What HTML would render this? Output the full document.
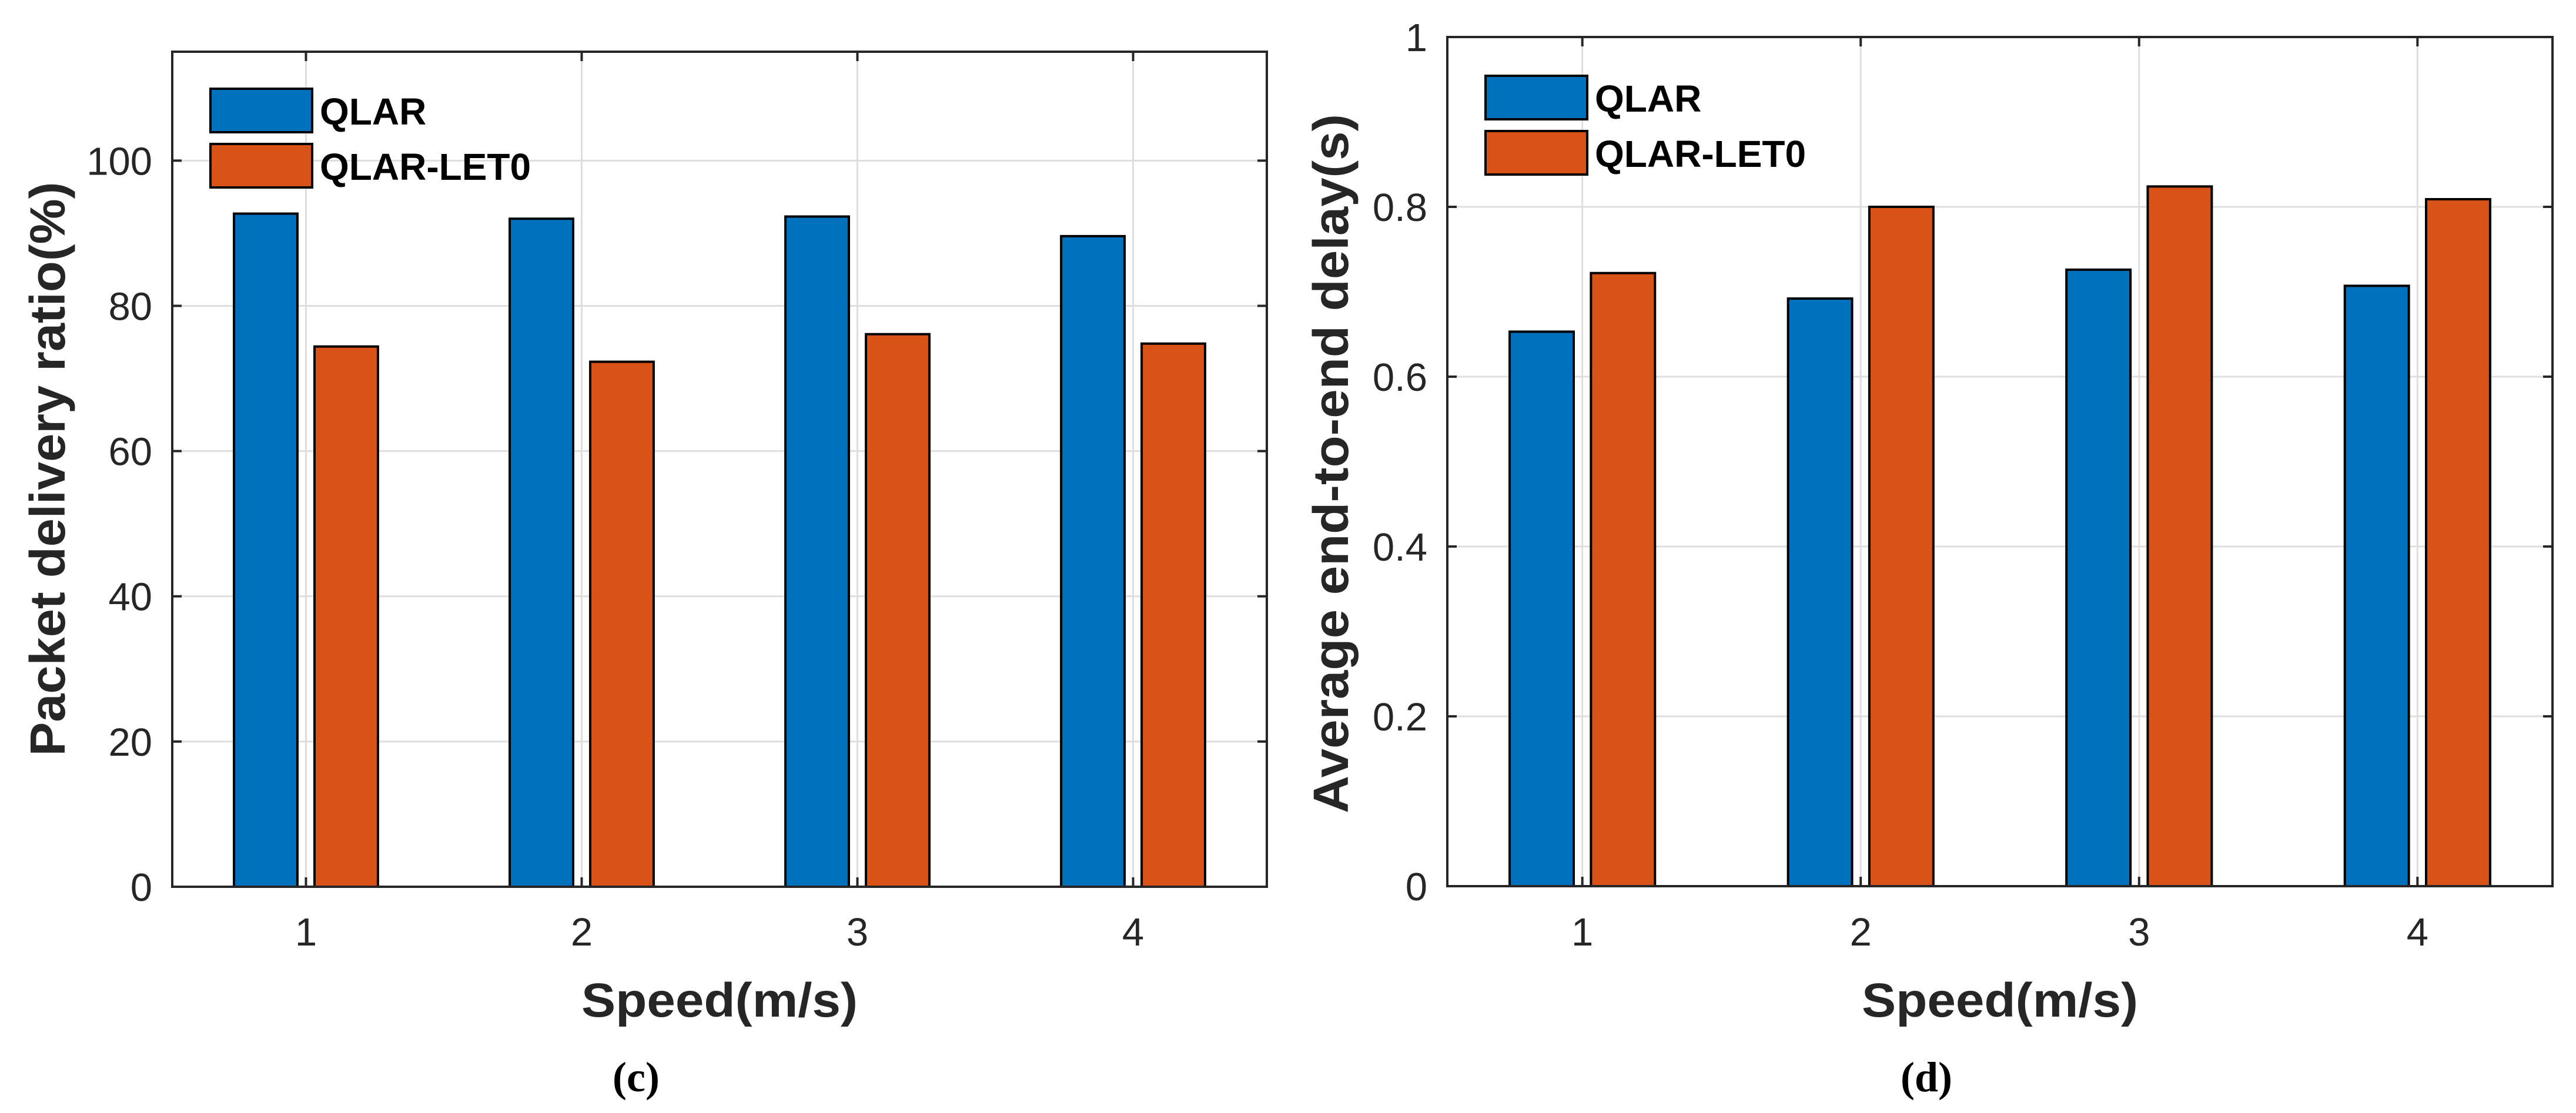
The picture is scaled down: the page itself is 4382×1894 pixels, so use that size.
<!DOCTYPE html>
<html><head><meta charset="utf-8"><style>
html,body{margin:0;padding:0;background:#fff;}
svg{display:block;}
text{font-family:"Liberation Sans",sans-serif;}
</style></head><body>
<svg id="fig" width="4382" height="1894" viewBox="0 0 4382 1894" xmlns="http://www.w3.org/2000/svg"></svg>
<script>
const categories = [1, 2, 3, 4];
const pdrQlar = [92.7, 92.0, 92.3, 89.6];
const pdrLet0 = [74.4, 72.3, 76.1, 74.8];
const pdrTicks = [0, 20, 40, 60, 80, 100];
const delayQlar = [0.653, 0.692, 0.726, 0.707];
const delayLet0 = [0.722, 0.800, 0.824, 0.809];
const delayTicks = [0, 0.2, 0.4, 0.6, 0.8, 1];
const delayTickLabels = ["0", "0.2", "0.4", "0.6", "0.8", "1"];
const seriesNames = ["QLAR", "QLAR-LET0"];

const NS = "http://www.w3.org/2000/svg";
const svg = document.getElementById("fig");
function mk(tag, attrs, parent, txt) {
  const e = document.createElementNS(NS, tag);
  for (const k in attrs) e.setAttribute(k, attrs[k]);
  if (txt !== undefined) e.textContent = txt;
  (parent || svg).appendChild(e);
  return e;
}

function drawChart(cfg) {
  const g = mk("g", {});
  
  
  const L = cfg.left, R = cfg.right, T = cfg.top, B = cfg.bottom;
  const xmin = 0.515, xmax = 4.485;
  const xs = v => L + (v - xmin) / (xmax - xmin) * (R - L);
  const ys = v => B - (v - cfg.ymin) / (cfg.ymax - cfg.ymin) * (B - T);
  cfg.ticks.forEach((t, i) => {
    const gl = mk("line", {x1: L, x2: R, y1: ys(t), y2: ys(t), stroke: "#dedede", "stroke-width": 3}, g);
    
    
  });
  categories.forEach(c => {
    const gl = mk("line", {x1: xs(c), x2: xs(c), y1: T, y2: B, stroke: "#dedede", "stroke-width": 3}, g);
    
    
  });
  const bw = 0.23, off = 0.146;
  const series = [[cfg.a, "#0072BD", -off], [cfg.b, "#D95319", off]];
  series.forEach((s, si) => {
    s[0].forEach((v, i) => {
      const x0 = xs(categories[i] + s[2] - bw / 2), x1 = xs(categories[i] + s[2] + bw / 2);
      const r = mk("rect", {x: x0, y: ys(v), width: x1 - x0, height: ys(cfg.ymin) - ys(v), fill: s[1], stroke: "#000", "stroke-width": 4}, g);
      
      
    });
  });
  cfg.ticks.forEach((t, i) => {
    mk("line", {x1: L, x2: L + 16, y1: ys(t), y2: ys(t), stroke: "#262626", "stroke-width": 4}, g);
    mk("line", {x1: R, x2: R - 16, y1: ys(t), y2: ys(t), stroke: "#262626", "stroke-width": 4}, g);
    const tl = mk("text", {x: L - 34, y: ys(t) + 24, "text-anchor": "end", "font-size": 67, fill: "#262626"}, g, cfg.tickLabels[i]);
    
    
  });
  categories.forEach(c => {
    mk("line", {x1: xs(c), x2: xs(c), y1: B, y2: B - 16, stroke: "#262626", "stroke-width": 4}, g);
    mk("line", {x1: xs(c), x2: xs(c), y1: T, y2: T + 16, stroke: "#262626", "stroke-width": 4}, g);
    const tl = mk("text", {x: xs(c), y: 1609, "text-anchor": "middle", "font-size": 67, fill: "#262626"}, g, String(c));
    
    
  });
  const box = mk("rect", {x: L, y: T, width: R - L, height: B - T, fill: "none", stroke: "#262626", "stroke-width": 4}, g);
  
  
  const lg = mk("g", {}, g);
  
  
  [["#0072BD", cfg.legY[0]], ["#D95319", cfg.legY[1]]].forEach((e, i) => {
    const ent = mk("g", {}, lg);
    
    
    mk("rect", {x: cfg.legX, y: e[1], width: 173, height: 74, fill: e[0], stroke: "#000", "stroke-width": 4}, ent);
    mk("text", {x: cfg.legX + 186, y: e[1] + 61, "font-size": 64, "font-weight": "bold", fill: "#000"}, ent, seriesNames[i]);
  });
  const cx = (L + R) / 2;
  const xt = mk("text", {x: cx, y: 1730, "text-anchor": "middle", "font-size": 82, "font-weight": "bold", fill: "#262626", textLength: 470, lengthAdjust: "spacingAndGlyphs"}, g, "Speed(m/s)");
  
  
  const yt = mk("text", {x: 0, y: 0, "text-anchor": "middle", "font-size": 84, "font-weight": "bold", fill: "#262626", textLength: cfg.ytLen, lengthAdjust: "spacingAndGlyphs", transform: "translate(" + cfg.ytX + "," + cfg.ytY + ") rotate(-90)"}, g, cfg.ytitle);
  
  
  const cap = mk("text", {x: cfg.capX, y: 1857, "text-anchor": "middle", "font-size": 72, "font-weight": "bold", fill: "#000", style: "font-family:'Liberation Serif',serif"}, g, cfg.caption);
  
  
}

drawChart({name: "pdr-chart", left: 293, right: 2155, top: 88, bottom: 1509, ymin: 0, ymax: 115,
  ticks: pdrTicks, tickLabels: pdrTicks.map(String), a: pdrQlar, b: pdrLet0,
  legX: 358, legY: [151, 245], ytitle: "Packet delivery ratio(%)", ytX: 110, ytY: 798, ytLen: 977,
  caption: "(c)", capX: 1082});
drawChart({name: "delay-chart", left: 2462, right: 4342, top: 63, bottom: 1508, ymin: 0, ymax: 1,
  ticks: delayTicks, tickLabels: delayTickLabels, a: delayQlar, b: delayLet0,
  legX: 2527, legY: [129, 223], ytitle: "Average end-to-end delay(s)", ytX: 2293, ytY: 789, ytLen: 1190,
  caption: "(d)", capX: 3277});
</script>
</body></html>
